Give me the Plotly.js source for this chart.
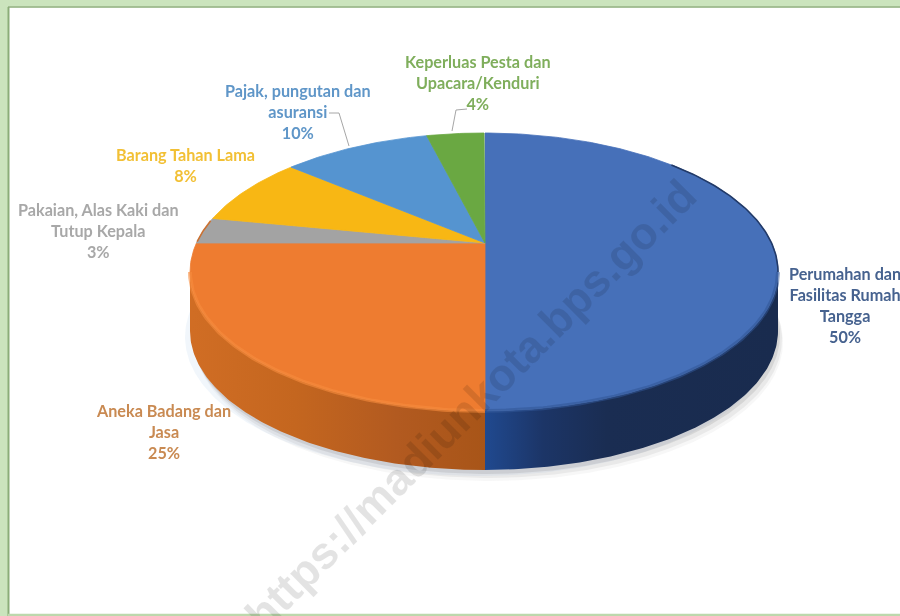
<!DOCTYPE html>
<html>
<head>
<meta charset="utf-8">
<script src="https://cdn.plot.ly/plotly-3.0.1.min.js"></script>
<style>html,body{margin:0;padding:0;background:#fff;overflow:hidden}#chart{width:900px;height:616px;filter:blur(0.5px)}</style>
</head>
<body>
<div id="chart"></div>
<script>
const categories = ["Perumahan dan Fasilitas Rumah Tangga","Aneka Badang dan Jasa","Pakaian, Alas Kaki dan Tutup Kepala","Barang Tahan Lama","Pajak, pungutan dan asuransi","Keperluas Pesta dan Upacara/Kenduri"];
const values = [50,25,3,8,10,4];
const sliceColors = ["#4670b9","#ee7c30","#a3a3a3","#f8b714","#5594d0","#6aa842"];
const labelLines = [["Perumahan dan","Fasilitas Rumah","Tangga"],["Aneka Badang dan","Jasa"],["Pakaian, Alas Kaki dan","Tutup Kepala"],["Barang Tahan Lama"],["Pajak, pungutan dan","asuransi"],["Keperluas Pesta dan","Upacara/Kenduri"]];
const labelColors = ["#46628f","#c98a52","#a8a8a8","#f2c035","#5f96c8","#7fae5c"];
const labelCentres = [[845,273],[163,409.5],[98,209],[185,154],[298,90],[478,60.5]];
const wallGradients = [
  [[0,"#20498f"],[0.2,"#1c3567"],[0.42,"#1a2d52"],[1,"#192b4e"]],
  [[0,"#d06d24"],[0.35,"#c4661f"],[0.7,"#b25a20"],[1,"#a85518"]]
];
const watermark = "https://madiunkota.bps.go.id";

const cx=484, cy=272, rx=294, ry=139, apexY=243, apexX=485, depth=59;
const total = values.reduce((a,b)=>a+b,0);
function rimParam(f){
  const th=2*Math.PI*f, dx=Math.sin(th), dy=-Math.cos(th);
  const ax=(apexX-cx)/rx, ay=(apexY-cy)/ry;
  const b=ax*dx+ay*dy, c=ax*ax+ay*ay-1;
  const s=-b+Math.sqrt(b*b-c);
  const px=ax+s*dx, py=ay+s*dy;
  let t=Math.atan2(px,-py);
  if(f>=1) return 2*Math.PI;
  if(t<0) t+=2*Math.PI;
  return t;
}
function rim(t,off=0,k=1,sx=0){return [cx+sx+k*rx*Math.sin(t), cy+off-k*ry*Math.cos(t)];}
function arc(t0,t1,off=0,k=1,sx=0){
  const n=Math.max(2,Math.ceil(Math.abs(t1-t0)*70)), out=[];
  for(let i=0;i<=n;i++) out.push(rim(t0+(t1-t0)*i/n,off,k,sx));
  return out;
}
let cum=0;
const params=[rimParam(0)];
values.forEach(v=>{cum+=v;params.push(rimParam(cum/total));});

const traces=[];
function poly(pts,extra){
  traces.push(Object.assign({type:"scatter",mode:"lines",x:pts.map(p=>p[0]),y:pts.map(p=>p[1]),fill:"toself",line:{width:0},hoverinfo:"skip",showlegend:false},extra));
}
// soft shadow under the pie
[[6,-5,"rgba(170,200,230,0.16)"],[11,5,"rgba(150,150,150,0.08)"],[8,4,"rgba(130,130,130,0.11)"],[4,2,"rgba(110,110,110,0.16)"]].forEach(s=>{
  const pts=arc(Math.PI*0.35,Math.PI*1.65,depth+s[0],1,s[1]);
  poly(pts.concat([pts[0]]),{fillcolor:s[2]});
});
// side wall: first slice from the right extreme to its end, second slice on to the left extreme
const wallStops=[[Math.PI/2,params[1]],[params[1],Math.PI*1.5]];
wallStops.forEach((w,i)=>{
  const top=arc(w[0],w[1]), bot=arc(w[1],w[0],depth);
  const pts=top.concat(bot); pts.push(top[0]);
  const grad = i===0 ? wallGradients[0] : wallGradients[1];
  poly(pts,{fillcolor:sliceColors[i],fillgradient:{type:"horizontal",colorscale:grad,start:i===0?485:193,stop:i===0?775:485},name:categories[i]+" side"});
});
// top face slices
values.forEach((v,i)=>{
  const pts=[[apexX,apexY]].concat(arc(params[i],params[i+1])); pts.push([apexX,apexY]);
  poly(pts,{fillcolor:sliceColors[i],line:{width:0.8,color:sliceColors[i]},name:categories[i],text:categories[i]+": "+v+"%",hoverinfo:"text",hoveron:"fills"});
});
// bevel along the front rim of the top face
[[Math.PI*0.5,params[1],"rgba(50,85,150,0.55)",4],[params[1],Math.PI*1.5,"rgba(246,140,62,0.6)",4]].forEach(b=>{
  const p=arc(b[0],b[1],0);
  traces.push({type:"scatter",mode:"lines",x:p.map(q=>q[0]),y:p.map(q=>q[1]),line:{width:b[3],color:b[2]},hoverinfo:"skip",showlegend:false});
});
// dark edge on the upper right of the large slice, darker edge on the left of the second
[[Math.PI*0.22,Math.PI*0.5,"#223a68",1.6],[params[2]+0.01,Math.PI*1.62,"rgba(205,105,35,0.9)",1.6]].forEach(b=>{
  const p=arc(b[0],b[1],0);
  traces.push({type:"scatter",mode:"lines",x:p.map(q=>q[0]),y:p.map(q=>q[1]),line:{width:b[3],color:b[2]},hoverinfo:"skip",showlegend:false});
});

const annotations=values.map((v,i)=>({
  xref:"x",yref:"y",x:labelCentres[i][0],y:labelCentres[i][1]-11,yanchor:"top",xanchor:"center",align:"center",showarrow:false,
  text:labelLines[i].concat([v+"%"]).join("<br>"),
  font:{family:"Lato, 'Open Sans', sans-serif",size:16.2,weight:700,color:labelColors[i]}
}));
annotations.push({xref:"x",yref:"y",x:470,y:405,xanchor:"center",yanchor:"middle",showarrow:false,textangle:-45,text:watermark,
  font:{family:"'Liberation Sans', Arial, sans-serif",size:45,weight:700,color:"rgba(0,0,0,0.11)"}});

const shapes=[
  {type:"rect",xref:"x",yref:"y",x0:0,x1:8,y0:0,y1:616,line:{width:0},fillcolor:"#cbe4bd",layer:"below"},
  {type:"rect",xref:"x",yref:"y",x0:0,x1:900,y0:0,y1:6.5,line:{width:0},fillcolor:"#cbe4bd",layer:"below"},
  {type:"line",xref:"x",yref:"y",x0:8.5,x1:8.5,y0:7,y1:616,line:{width:2,color:"#8bad79"},layer:"below"},
  {type:"line",xref:"x",yref:"y",x0:8,x1:900,y0:7,y1:7,line:{width:1.6,color:"#8bad79"},layer:"below"},
  {type:"line",xref:"x",yref:"y",x0:8,x1:900,y0:615,y1:615,line:{width:2.5,color:"#bcd8ac"},layer:"below"},
  {type:"path",xref:"x",yref:"y",path:"M329,113 L339,113 L349,146",line:{width:1,color:"#a6a6a6"}},
  {type:"path",xref:"x",yref:"y",path:"M467,109 L456,110 L452,131",line:{width:1,color:"#a6a6a6"}}
];

Plotly.newPlot("chart",traces,{
  width:900,height:616,margin:{l:0,r:0,t:0,b:0,pad:0},
  paper_bgcolor:"#ffffff",plot_bgcolor:"rgba(0,0,0,0)",showlegend:false,
  xaxis:{range:[0,900],visible:false,fixedrange:true},
  yaxis:{range:[616,0],visible:false,fixedrange:true},
  annotations:annotations,shapes:shapes
},{displayModeBar:false,staticPlot:false});
</script>
</body>
</html>
